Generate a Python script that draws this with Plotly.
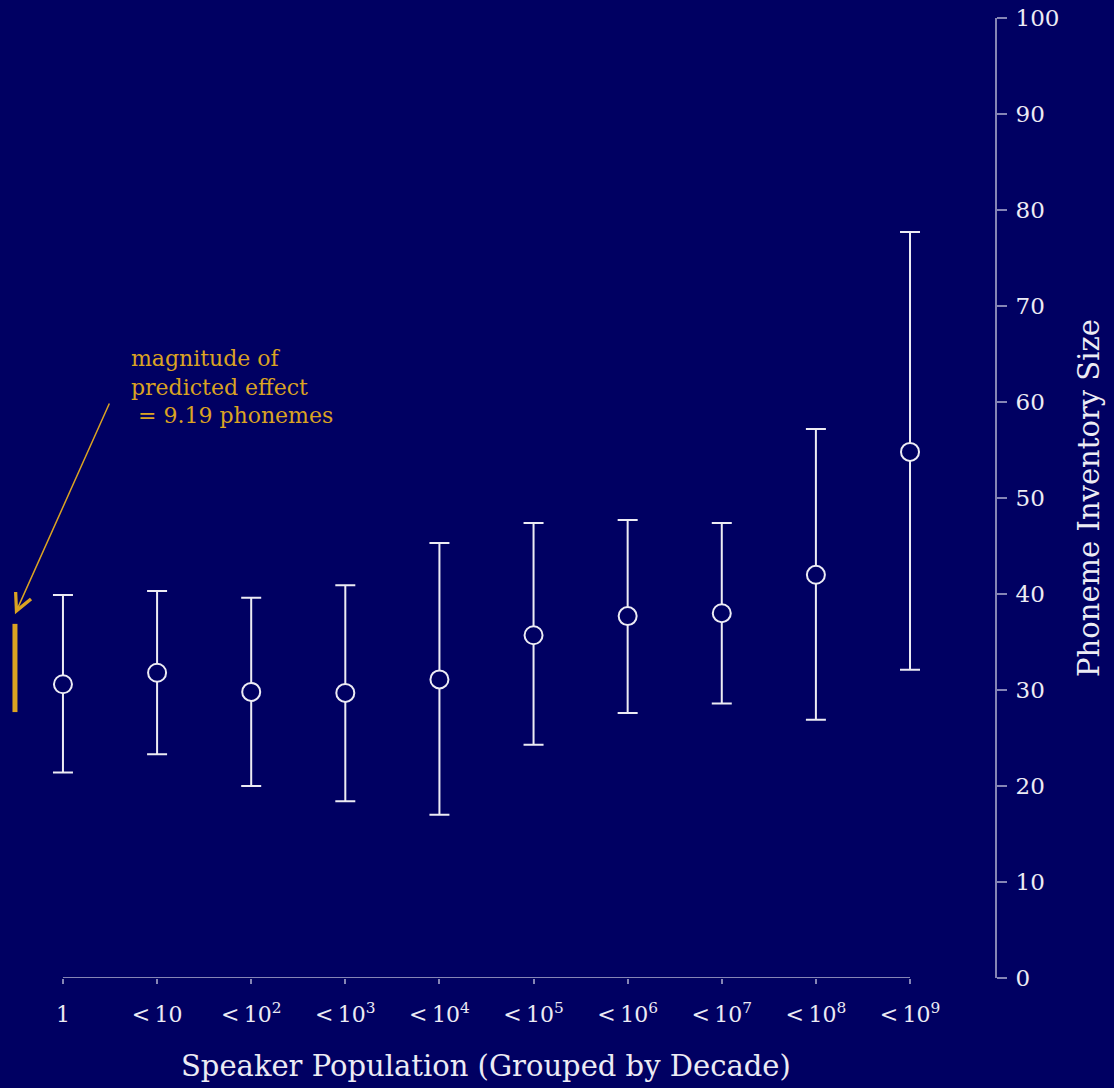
import plotly.graph_objects as go

categories = ["1", "&lt;&#8201;10", "&lt;&#8201;10<sup>2</sup>", "&lt;&#8201;10<sup>3</sup>", "&lt;&#8201;10<sup>4</sup>",
              "&lt;&#8201;10<sup>5</sup>", "&lt;&#8201;10<sup>6</sup>", "&lt;&#8201;10<sup>7</sup>",
              "&lt;&#8201;10<sup>8</sup>", "&lt;&#8201;10<sup>9</sup>"]
means = [30.6, 31.8, 29.8, 29.7, 31.1, 35.7, 37.7, 38.0, 42.0, 54.8]
upper = [39.9, 40.3, 39.6, 40.9, 45.3, 47.4, 47.7, 47.4, 57.2, 77.7]
lower = [21.4, 23.3, 20.0, 18.4, 17.0, 24.3, 27.6, 28.6, 26.9, 32.1]
effect_size = 9.19
effect_base = 27.7
yticks = [0, 10, 20, 30, 40, 50, 60, 70, 80, 90, 100]

BG = "#000062"
FG = "#ecebf4"
AX = "#8585b5"
OR = "#dba322"
FONT = "DejaVu Serif"

xs = list(range(len(categories)))
fig = go.Figure()

fig.add_trace(go.Scatter(
    x=xs, y=means, mode="markers",
    error_y=dict(type="data", symmetric=False,
                 array=[u - m for u, m in zip(upper, means)],
                 arrayminus=[m - l for m, l in zip(means, lower)],
                 color=FG, thickness=2, width=10),
    marker=dict(symbol="circle", size=18, color=BG, line=dict(color=FG, width=2)),
    showlegend=False, hoverinfo="skip"))

# effect bar
fig.add_trace(go.Scatter(
    x=[-0.51, -0.51], y=[effect_base, effect_base + effect_size], mode="lines",
    line=dict(color=OR, width=5), showlegend=False, hoverinfo="skip"))

# x axis line spanning data only
fig.add_shape(type="line", xref="x", yref="y", x0=xs[0], x1=xs[-1], y0=0, y1=0,
              line=dict(color=AX, width=2))

fig.add_annotation(x=-0.51, y=37.9, ax=0.5, ay=60.0, axref="x", ayref="y",
                   xref="x", yref="y", showarrow=True, arrowhead=5, arrowsize=2.2,
                   arrowwidth=1.5, arrowcolor=OR, text="")
fig.add_annotation(x=0.70, y=66.0, xref="x", yref="y", xanchor="left", yanchor="top",
                   showarrow=False, align="left",
                   text="magnitude of<br>predicted effect<br> = 9.19 phonemes",
                   font=dict(family=FONT, size=22, color=OR))

# x-axis title centred on the data span
fig.add_annotation(x=(xs[0] + xs[-1]) / 2, y=-0.092, xref="x", yref="paper",
                   xanchor="center", yanchor="middle", showarrow=False,
                   text="Speaker Population (Grouped by Decade)",
                   font=dict(family=FONT, size=29, color=FG))

fig.update_layout(
    width=1114, height=1088,
    margin=dict(l=0, r=119, t=18, b=110),
    paper_bgcolor=BG, plot_bgcolor=BG,
    font=dict(family=FONT, color=FG),
    xaxis=dict(range=[-0.669, 9.903], tickvals=xs, ticktext=categories,
               showgrid=False, zeroline=False, showline=False,
               ticks="outside", ticklen=5, tickwidth=2, tickcolor=AX,
               ticklabelstandoff=12,
               tickfont=dict(size=22, color=FG)),
    yaxis=dict(range=[0, 100], side="right", tickvals=yticks,
               showgrid=False, zeroline=False, showline=True, linecolor=AX, linewidth=2,
               ticks="outside", ticklen=10, tickwidth=2, tickcolor=AX,
               ticklabelstandoff=4,
               tickfont=dict(size=23, color=FG),
               title=dict(text="Phoneme Inventory Size", font=dict(size=29, color=FG), standoff=20)),
)

fig.write_html("out.html")
